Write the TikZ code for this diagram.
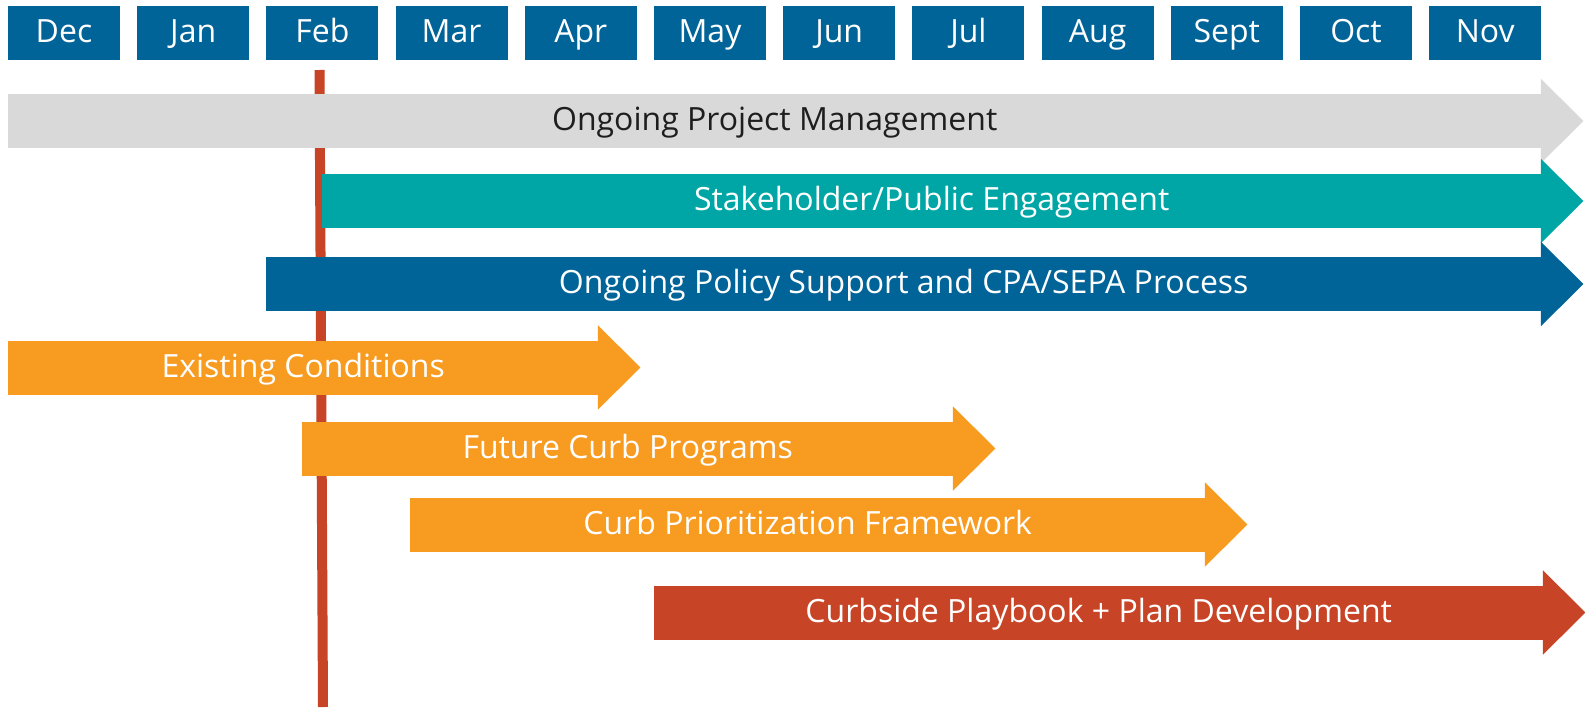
\documentclass[tikz,border=0pt]{standalone}
\usepackage{fontspec}
\setmainfont{Open Sans}
\definecolor{mblue}{RGB}{0,100,152}
\definecolor{pgray}{RGB}{217,217,217}
\definecolor{pteal}{RGB}{0,166,166}
\definecolor{porange}{RGB}{248,155,33}
\definecolor{pred}{RGB}{200,68,38}
\definecolor{ptext}{RGB}{30,30,30}
\newcommand\phasebar[7]{%
  \node[bar, fill=#2, text=#7, minimum width=#4-#3] (#1) at (#3,#5) {#6};
  \fill[#2] ([xshift=-0.5pt,yshift=15pt]#1.north east) -- ([xshift=42pt]#1.east)
    -- ([xshift=-0.5pt,yshift=-15pt]#1.south east) -- cycle;}
\begin{document}
\begin{tikzpicture}[x=1pt,y=-1pt,
  month/.style={fill=mblue, text=white, minimum width=112pt, minimum height=54pt,
    inner sep=0pt, text height=22pt, text depth=3pt, font=\fontsize{32}{32}\selectfont},
  bar/.style={anchor=west, minimum height=54pt, inner sep=0pt,
    text height=22pt, text depth=3pt, font=\fontsize{32}{32}\selectfont},
  redline/.style={draw=pred, line width=10pt}]
\useasboundingbox[fill=white] (0,0) rectangle (1585,707);
% months
\foreach \m [count=\i from 0] in {Dec,Jan,Feb,Mar,Apr,May,Jun,Jul,Aug,Sept,Oct,Nov}
  \node[month] (m\i) at ({64+129.2*\i},33) {\m};
% today line
\coordinate (ltop) at (319.5,70);
\coordinate (lbot) at (323,707);
\draw[redline] (ltop) -- (lbot);
% bars
\phasebar{pm}{pgray}{8}{1541}{121}{Ongoing Project Management}{ptext}
\phasebar{se}{pteal}{322}{1541}{201}{Stakeholder/Public Engagement}{white}
\phasebar{ps}{mblue}{266}{1541}{284}{Ongoing Policy Support and CPA/SEPA Process}{white}
\phasebar{ec}{porange}{8}{598}{367.5}{Existing Conditions}{white}
\phasebar{fc}{porange}{302}{953}{448.5}{Future Curb Programs}{white}
\phasebar{cp}{porange}{410}{1205}{524.5}{Curb Prioritization Framework}{white}
\phasebar{pb}{pred}{654}{1543}{612.5}{Curbside Playbook + Plan Development}{white}
\end{tikzpicture}
\end{document}
